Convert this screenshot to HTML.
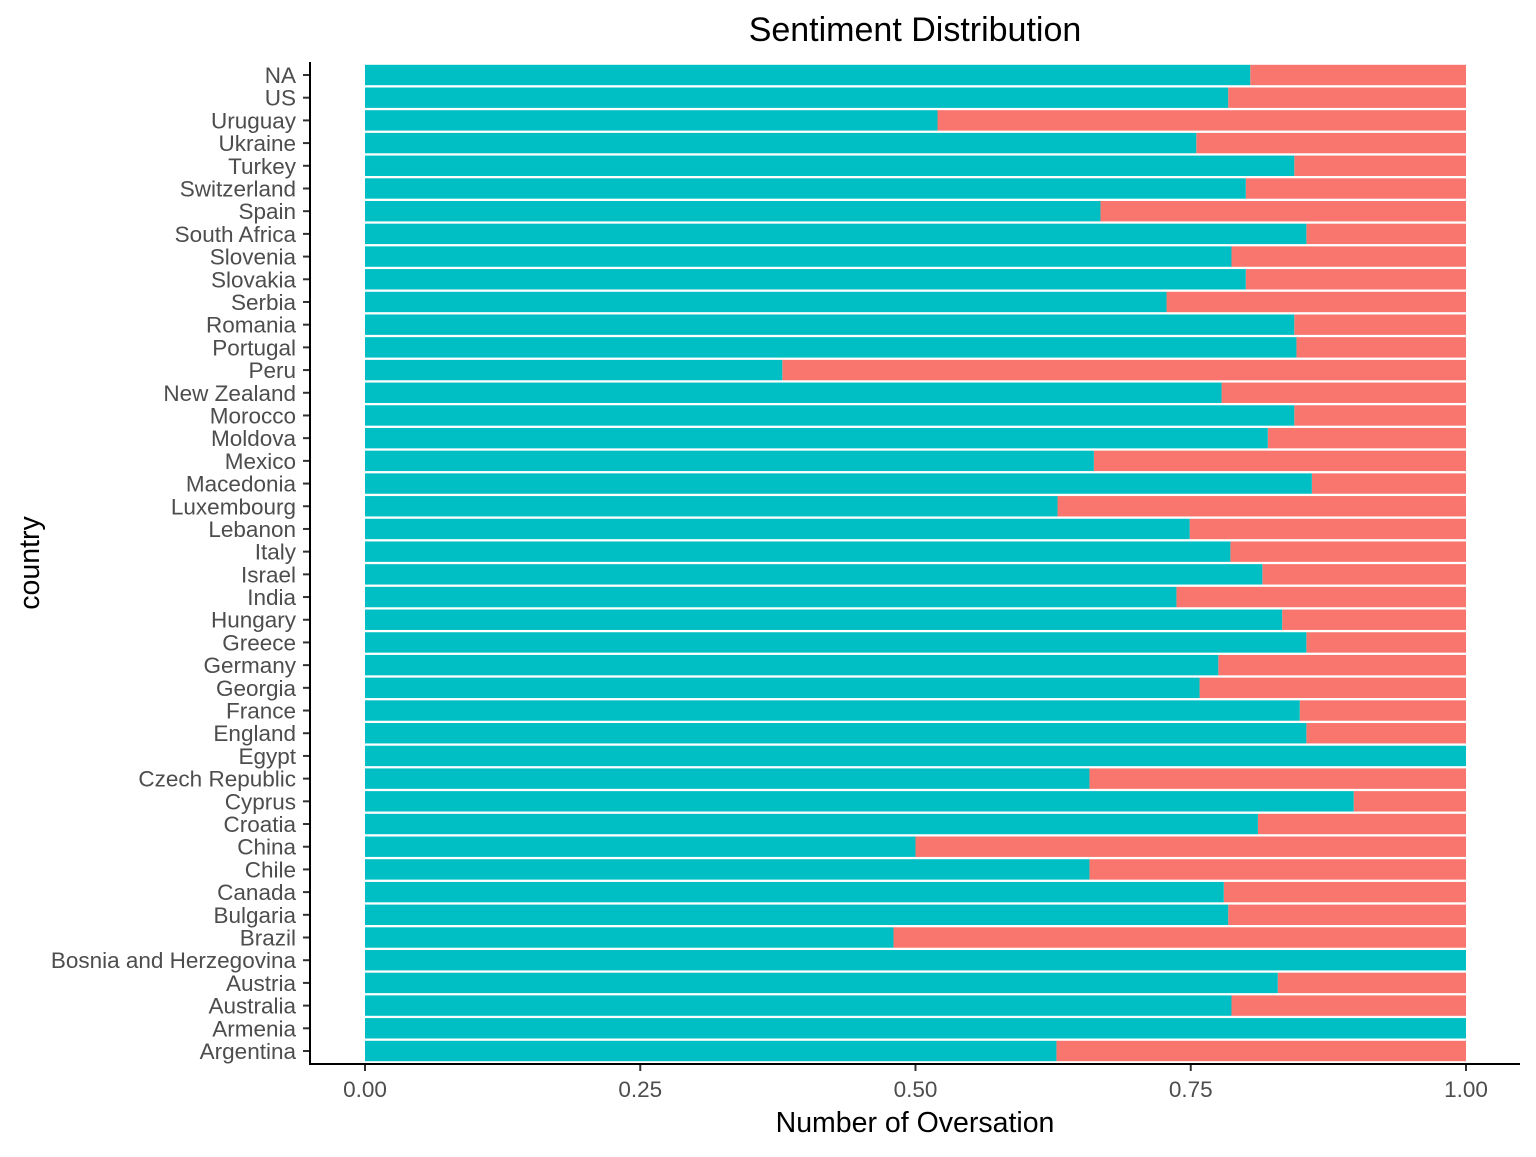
<!DOCTYPE html>
<html><head><meta charset="utf-8"><style>
body{margin:0;background:#fff}
svg text{font-family:"Liberation Sans",Arial,sans-serif}
</style></head><body>
<svg id="chart" width="1536" height="1152" xmlns="http://www.w3.org/2000/svg">
<text x="915" y="41" font-size="34" text-anchor="middle" fill="#000">Sentiment Distribution</text>
<text x="915" y="1132" font-size="28.5" text-anchor="middle" fill="#000">Number of Oversation</text>
<text transform="translate(39,563) rotate(-90)" font-size="28.5" text-anchor="middle" fill="#000">country</text>
<g id="bars"></g><g id="yaxis"></g><g id="xaxis"></g>
</svg>
<script>
const categories=["NA","US","Uruguay","Ukraine","Turkey","Switzerland","Spain","South Africa","Slovenia","Slovakia","Serbia","Romania","Portugal","Peru","New Zealand","Morocco","Moldova","Mexico","Macedonia","Luxembourg","Lebanon","Italy","Israel","India","Hungary","Greece","Germany","Georgia","France","England","Egypt","Czech Republic","Cyprus","Croatia","China","Chile","Canada","Bulgaria","Brazil","Bosnia and Herzegovina","Austria","Australia","Armenia","Argentina"];
const positiveShare=[0.804,0.784,0.520,0.755,0.844,0.800,0.668,0.855,0.787,0.800,0.728,0.844,0.846,0.379,0.778,0.844,0.820,0.662,0.860,0.629,0.749,0.786,0.815,0.737,0.833,0.855,0.775,0.758,0.849,0.855,1.0,0.658,0.898,0.811,0.500,0.658,0.780,0.784,0.480,1.0,0.829,0.787,1.0,0.628];
const xTicks=[0,0.25,0.5,0.75,1];
const xTickLabels=["0.00","0.25","0.50","0.75","1.00"];
const NS="http://www.w3.org/2000/svg";
const x0=365,x1=1466,yTop=75,yBot=1051;
const xs=v=>x0+v*(x1-x0);
const step=(yBot-yTop)/(categories.length-1);
const ys=i=>yTop+i*step;
const bh=20.4;
function mk(t,a,p){const e=document.createElementNS(NS,t);for(const k in a)e.setAttribute(k,a[k]);p.appendChild(e);return e;}
const bars=document.getElementById('bars'),ya=document.getElementById('yaxis'),xa=document.getElementById('xaxis');
categories.forEach((c,i)=>{
 const v=positiveShare[i],y=ys(i)-bh/2;
 if(v<1){const r=mk('rect',{x:xs(v),y:y,width:xs(1)-xs(v),height:bh,fill:'#F8766D'},bars);
 
 }
 const g=mk('rect',{x:xs(0),y:y,width:xs(v)-xs(0),height:bh,fill:'#00BFC4'},bars);
 
 
 const tk=mk('line',{x1:303,x2:310,y1:ys(i),y2:ys(i),stroke:'#333','stroke-width':2},ya);
 
 
 const t=mk('text',{x:296,y:ys(i)+8,'font-size':22.5,'text-anchor':'end',fill:'#4d4d4d'},ya);
 t.textContent=c;
 
 
});
xTicks.forEach((v,i)=>{
 const tk=mk('line',{x1:xs(v),x2:xs(v),y1:1064,y2:1071,stroke:'#333','stroke-width':2},xa);
 
 
 const t=mk('text',{x:xs(v),y:1097,'font-size':22.5,'text-anchor':'middle',fill:'#4d4d4d'},xa);
 t.textContent=xTickLabels[i];
 
 
});
const la=mk('line',{x1:310,x2:310,y1:62,y2:1065,stroke:'#000','stroke-width':2},ya);


const lb=mk('line',{x1:309,x2:1520,y1:1064,y2:1064,stroke:'#000','stroke-width':2},xa);


</script>
</body></html>
